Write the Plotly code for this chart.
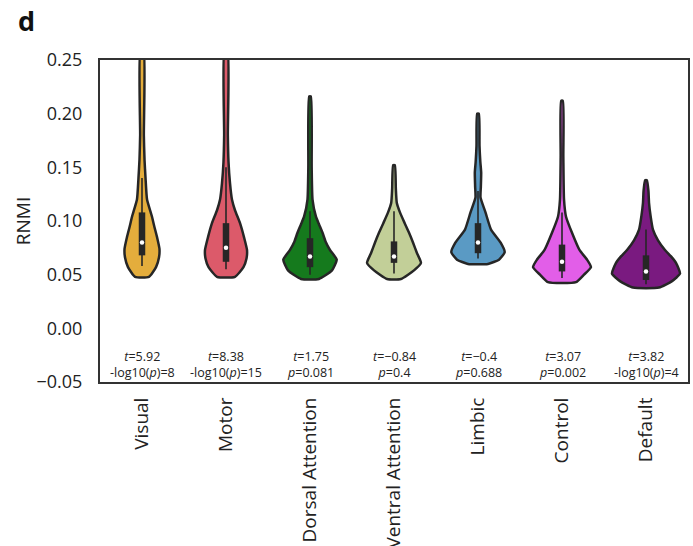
import plotly.graph_objects as go

# Network labels and fill colours
networks = ["Visual", "Motor", "Dorsal Attention", "Ventral Attention",
            "Limbic", "Control", "Default"]
colors = ["#e4ad3c", "#dc5a6a", "#157a1d", "#c2cf98", "#5a9ac4", "#e25ee8", "#7a1a80"]

# Density profiles: RNMI level and violin half-width (category units)
visual_y = [0.048, 0.057, 0.066, 0.074, 0.085, 0.096, 0.104, 0.120, 0.140, 0.157, 0.180, 0.260]
visual_w = [0.083, 0.167, 0.202, 0.208, 0.179, 0.143, 0.119, 0.060, 0.042, 0.030, 0.022, 0.018]
motor_y = [0.048, 0.057, 0.065, 0.073, 0.085, 0.098, 0.110, 0.120, 0.135, 0.155, 0.180, 0.260]
motor_w = [0.107, 0.208, 0.244, 0.250, 0.214, 0.167, 0.107, 0.071, 0.048, 0.030, 0.022, 0.018]
dorsal_y = [0.046, 0.054, 0.064, 0.073, 0.081, 0.089, 0.097, 0.104, 0.120, 0.150, 0.216]
dorsal_w = [0.107, 0.262, 0.318, 0.238, 0.185, 0.149, 0.107, 0.071, 0.030, 0.020, 0.010]
ventral_y = [0.046, 0.054, 0.061, 0.070, 0.080, 0.089, 0.098, 0.108, 0.117, 0.130, 0.152]
ventral_w = [0.083, 0.238, 0.321, 0.274, 0.226, 0.179, 0.127, 0.071, 0.033, 0.022, 0.010]
limbic_y = [0.060, 0.064, 0.071, 0.080, 0.092, 0.108, 0.122, 0.132, 0.145, 0.155, 0.170, 0.200]
limbic_w = [0.119, 0.250, 0.318, 0.268, 0.155, 0.089, 0.030, 0.034, 0.038, 0.028, 0.018, 0.010]
control_y = [0.043, 0.050, 0.057, 0.064, 0.073, 0.089, 0.104, 0.120, 0.160, 0.212]
control_w = [0.167, 0.262, 0.345, 0.298, 0.208, 0.119, 0.048, 0.024, 0.016, 0.010]
default_y = [0.038, 0.044, 0.051, 0.061, 0.067, 0.073, 0.082, 0.092, 0.105, 0.117, 0.128, 0.138]
default_w = [0.155, 0.310, 0.405, 0.357, 0.298, 0.226, 0.143, 0.083, 0.054, 0.036, 0.029, 0.010]

profiles_y = [visual_y, motor_y, dorsal_y, ventral_y, limbic_y, control_y, default_y]
profiles_w = [visual_w, motor_w, dorsal_w, ventral_w, limbic_w, control_w, default_w]

# Box summaries: lower whisker, Q1, median, Q3, upper whisker
whisker_lo = [0.058, 0.055, 0.050, 0.051, 0.065, 0.047, 0.041]
q1 = [0.068, 0.062, 0.057, 0.061, 0.070, 0.053, 0.045]
median = [0.080, 0.075, 0.067, 0.067, 0.080, 0.062, 0.053]
q3 = [0.108, 0.098, 0.084, 0.081, 0.098, 0.078, 0.068]
whisker_hi = [0.140, 0.150, 0.109, 0.109, 0.128, 0.108, 0.092]

# Statistics printed under each violin
stat_t = ["5.92", "8.38", "1.75", "\u22120.84", "\u22120.4", "3.07", "3.82"]
stat_p = ["-log10(<i>p</i>)=8", "-log10(<i>p</i>)=15", "<i>p</i>=0.081", "<i>p</i>=0.4",
          "<i>p</i>=0.688", "<i>p</i>=0.002", "-log10(<i>p</i>)=4"]

OUTLINE = "#262626"
fig = go.Figure()

for i, (ys, ws) in enumerate(zip(profiles_y, profiles_w)):
    xs = [i + w for w in ws] + [i - w for w in reversed(ws)] + [i + ws[0]]
    yy = list(ys) + list(reversed(ys)) + [ys[0]]
    fig.add_trace(go.Scatter(
        x=xs, y=yy, mode="lines", fill="toself", fillcolor=colors[i],
        line=dict(color=OUTLINE, width=2.5, shape="spline", smoothing=0.5),
        hoverinfo="skip", showlegend=False))
    # whisker
    fig.add_trace(go.Scatter(
        x=[i, i], y=[whisker_lo[i], whisker_hi[i]], mode="lines",
        line=dict(color=OUTLINE, width=1.6), hoverinfo="skip", showlegend=False))
    # interquartile box
    fig.add_trace(go.Scatter(
        x=[i, i], y=[q1[i], q3[i]], mode="lines",
        line=dict(color=OUTLINE, width=6.5), hoverinfo="skip", showlegend=False))
    # median
    fig.add_trace(go.Scatter(
        x=[i], y=[median[i]], mode="markers",
        marker=dict(color="white", size=4.5), hoverinfo="skip", showlegend=False))

for i in range(len(networks)):
    fig.add_annotation(
        x=i, y=-0.034, xref="x", yref="y", showarrow=False,
        text=f"<i>t</i>={stat_t[i]}<br>{stat_p[i]}",
        font=dict(family="Open Sans", size=12.5, color="#222"),
        align="center", yanchor="middle")

# panel letter
fig.add_annotation(
    x=-0.143, y=1.185, xref="paper", yref="paper", xanchor="left", yanchor="top",
    showarrow=False, text="<b>d</b>",
    font=dict(family="Open Sans", size=27, color="#111"))

fig.update_layout(
    width=693, height=546,
    margin=dict(l=100, r=5, t=60, b=164),
    plot_bgcolor="white", paper_bgcolor="white",
    font=dict(family="Open Sans", color="#222"),
    xaxis=dict(
        range=[-0.5, 6.5], tickmode="array", tickvals=list(range(len(networks))),
        ticktext=networks, tickangle=-90, showgrid=False, zeroline=False,
        showline=True, mirror=True, linecolor="#333", linewidth=2,
        tickfont=dict(size=19, color="#222"), ticks="", ticklabelstandoff=6,
        automargin=False),
    yaxis=dict(
        range=[-0.05, 0.25], tickmode="array",
        tickvals=[-0.05, 0, 0.05, 0.10, 0.15, 0.20, 0.25],
        ticktext=["\u22120.05", "0.00", "0.05", "0.10", "0.15", "0.20", "0.25"],
        showgrid=False, zeroline=False, showline=True, mirror=True,
        linecolor="#333", linewidth=2, ticks="", ticklabelstandoff=12,
        tickfont=dict(size=18, color="#222"), automargin=False,
        title=dict(text="RNMI", font=dict(size=19, color="#222"), standoff=1)),
)

fig.write_html("out.html")
